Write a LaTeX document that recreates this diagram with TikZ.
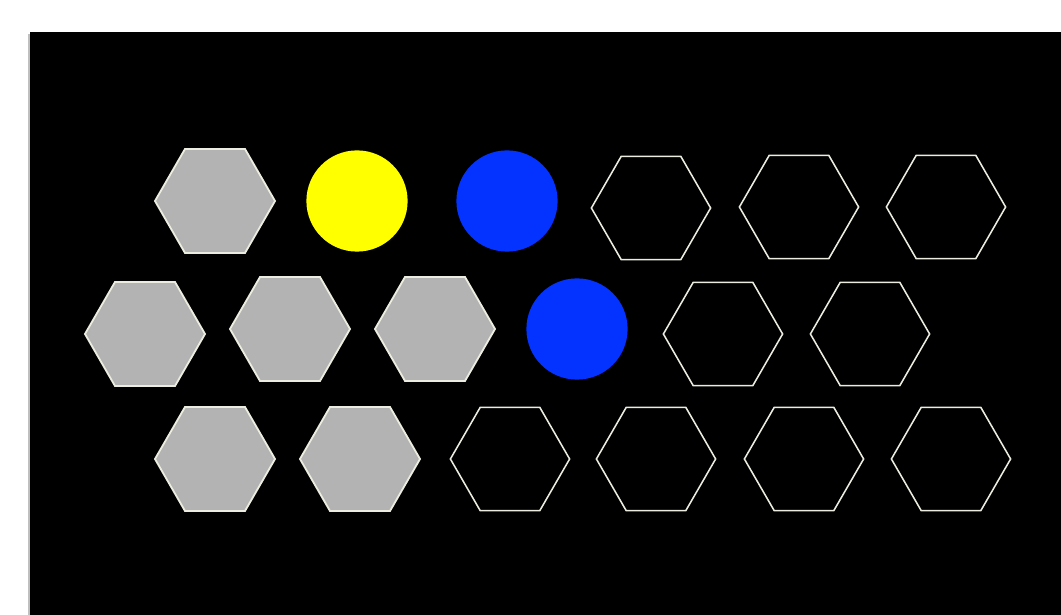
\documentclass[tikz,border=0pt]{standalone}
\usepackage{tikz}
\usetikzlibrary{shapes.geometric}

\definecolor{hexgray}{HTML}{B3B3B3}
\definecolor{hexline}{HTML}{ECECE0}
\definecolor{dotblue}{HTML}{0433FF}
\definecolor{dotyellow}{HTML}{FFFF00}

\begin{document}
\begin{tikzpicture}[
      x=0.025cm, y=-0.025cm,
      hexfull/.style={regular polygon, regular polygon sides=6, draw=hexline, line width=1.3pt, fill=hexgray, minimum size=3cm, inner sep=0pt},
      hexopen/.style={regular polygon, regular polygon sides=6, draw=hexline, line width=1.1pt, minimum size=2.98cm, inner sep=0pt},
      disc/.style={circle, minimum size=2.53cm, inner sep=0pt}
    ]
    \useasboundingbox (0,0) rectangle (1061,615);
    \fill[black!25] (28,34) rectangle (31,615);
    \fill[black] (30,32) rectangle (1061,615);

    % top row
    \node[hexfull] (g1) at (215,201) {};
    \node[disc, fill=dotyellow] (y1) at (357,201) {};
    \node[disc, fill=dotblue] (b1) at (507,201) {};
    \node[hexopen] (o1) at (651,208) {};
    \node[hexopen] (o2) at (799,207) {};
    \node[hexopen] (o3) at (946,207) {};

    % middle row
    \node[hexfull] (g2) at (145,334) {};
    \node[hexfull] (g3) at (290,329) {};
    \node[hexfull] (g4) at (435,329) {};
    \node[disc, fill=dotblue] (b2) at (577,329) {};
    \node[hexopen] (o4) at (723,334) {};
    \node[hexopen] (o5) at (870,334) {};

    % bottom row
    \node[hexfull] (g5) at (215,459) {};
    \node[hexfull] (g6) at (360,459) {};
    \node[hexopen] (o6) at (510,459) {};
    \node[hexopen] (o7) at (656,459) {};
    \node[hexopen] (o8) at (804,459) {};
    \node[hexopen] (o9) at (951,459) {};
  \end{tikzpicture}
\end{document}
